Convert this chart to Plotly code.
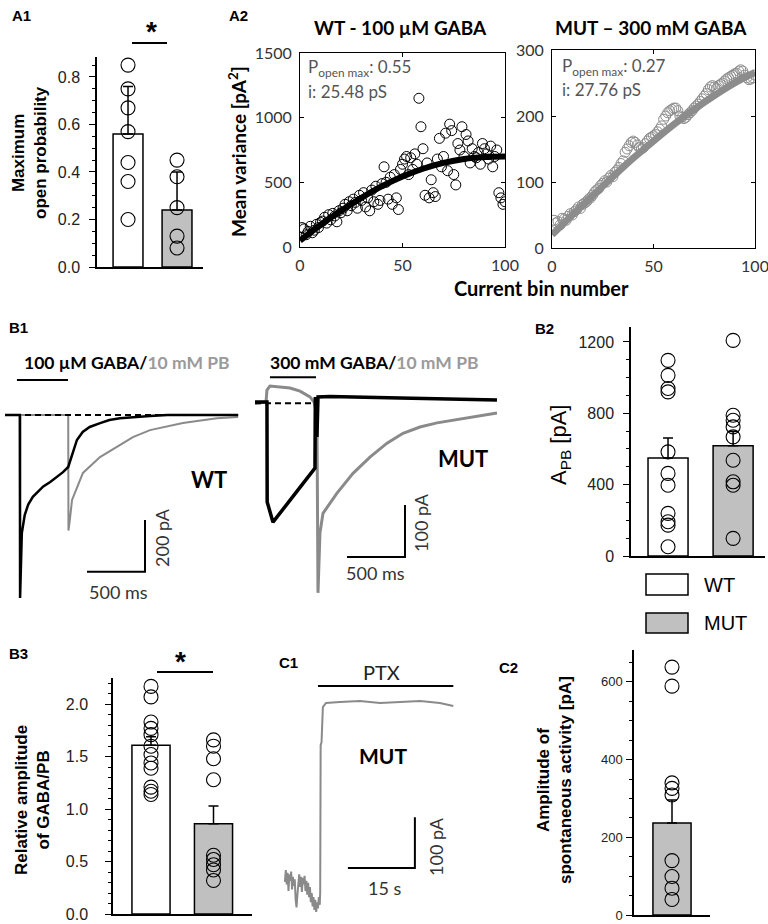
import plotly.graph_objects as go

W, H = 768, 924

# ---------------- DATA ----------------
groups = ["WT", "MUT"]
group_pos = [0, 1]

# A1: maximum open probability
a1_mean = [0.56, 0.24]
a1_err = [0.20, 0.16]
a1_wt = [0.85, 0.75, 0.67, 0.57, 0.44, 0.36, 0.20]
a1_mut = [0.45, 0.38, 0.25, 0.13, 0.08]

# A2: mean variance vs current bin number
a2_bins = list(range(1, 101))
a2_wt_var = [150, 140, 95, 120, 160, 110, 130, 175, 150, 190,
             200, 230, 185, 250, 210, 260, 240, 195, 280, 265,
             300, 330, 280, 350, 320, 370, 345, 300, 400, 360,
             420, 310, 380, 280, 440, 350, 470, 330, 360, 490,
             620, 500, 370, 540, 330, 560, 380, 290, 600, 640,
             680, 700, 560, 690, 600, 720, 640, 1150, 930, 760,
             400, 650, 380, 520, 420, 390, 680, 840, 620, 700,
             880, 590, 950, 900, 560, 480, 800, 750, 930, 700,
             870, 820, 650, 760, 700, 690, 730, 640, 800, 760,
             720, 680, 780, 620, 700, 750, 420, 380, 330, 350]
a2_mut_var = [42, 38, 40, 35, 45, 44, 42, 48, 52, 50,
              55, 58, 62, 60, 66, 68, 70, 74, 76, 80,
              85, 88, 90, 95, 98, 102, 100, 106, 110, 108,
              115, 118, 122, 128, 132, 145, 150, 155, 160, 162,
              160, 156, 152, 150, 152, 158, 162, 166, 168, 170,
              172, 176, 180, 185, 195, 200, 205, 208, 210, 212,
              212, 208, 200, 198, 196, 198, 202, 205, 208, 212,
              215, 218, 222, 226, 230, 234, 240, 244, 246, 244,
              242, 246, 248, 250, 253, 256, 258, 260, 262, 264,
              265, 268, 270, 268, 262, 258, 255, 256, 258, 262]
a2_fit_bins = [0, 10, 20, 30, 40, 50, 60, 70, 80, 90, 100]
a2_wt_fit = [50, 170, 280, 380, 470, 545, 605, 650, 680, 695, 700]
a2_mut_fit = [20, 50, 79, 108, 136, 162, 187, 210, 231, 250, 266]

# B1: current traces (ms, pA)
wt_gaba_t = [0, 128, 130, 135, 145, 170, 200, 240, 285, 330, 390, 450, 500, 545,
             580, 620, 670, 730, 820, 900, 990, 1100, 1250, 1400, 2010]
wt_gaba_i = [0, 0, -705, -560, -455, -385, -345, -315, -295, -275, -258, -238, -220, -200,
             -155, -96, -65, -46, -31, -19, -12, -8, -4, 0, 0]
wt_pb_t = [0, 128, 130, 133, 545, 547, 560, 578, 612, 672, 819, 965, 1103, 1250, 1534, 1827, 2010]
wt_pb_i = [0, 0, -480, 0, 0, -445, -400, -327, -289, -223, -162, -123, -85, -58, -31, -12, -8]
mut_gaba_t = [0, 103, 105, 155, 336, 517, 520, 534, 543, 647, 1250, 1681, 2086]
mut_gaba_i = [2, 2, -190, -229, -177, -125, 12, -65, 12, 13, 10, 8, 6]
mut_pb_t = [0, 95, 103, 129, 302, 388, 474, 509, 534, 543, 560, 586, 707, 845, 991,
            1138, 1276, 1422, 1569, 1707, 1853, 2086]
mut_pb_i = [0, 2, 25, 33, 29, 23, 12, 2, -20, -365, -250, -212, -173, -135, -104,
            -77, -58, -46, -38, -33, -27, -19]
wt_gaba_on = [103, 543]
mut_gaba_on = [129, 526]

# B2: A_PB
b2_mean = [550, 618]
b2_err = [112, 80]
b2_wt = [1097, 1013, 939, 920, 584, 463, 397, 239, 192, 173, 52]
b2_mut = [1209, 789, 761, 724, 668, 537, 416, 397, 99]

# B3: relative amplitude GABA/PB
b3_mean = [1.61, 0.86]
b3_err = [0.08, 0.17]
b3_wt = [2.17, 2.07, 1.83, 1.77, 1.71, 1.60, 1.52, 1.44, 1.39, 1.21, 1.17, 1.14]
b3_mut = [1.66, 1.60, 1.48, 1.28, 0.56, 0.52, 0.47, 0.42, 0.32]

# C1: PTX trace (s, pA)
c1_t = [1.1, 1.3, 1.5, 1.7, 1.9, 2.1, 2.3, 2.5, 2.7, 2.9, 3.1, 3.3, 3.5, 3.7, 3.9,
        4.1, 4.3, 4.5, 4.7, 4.9, 5.1, 5.3, 5.5, 5.7, 5.9, 6.1, 6.3, 6.5, 6.7, 6.9,
        7.1, 7.3, 7.5, 7.7, 7.9, 8.1, 8.3, 8.5, 8.7, 8.9,
        9.0, 9.1, 9.3, 9.6, 10.3, 13.4, 17.9, 22.4, 26.9, 31.4, 35.8, 38.8]
c1_i = [10, 33, 5, 28, -8, 25, 12, 30, -5, 20, 2, 15, -25, -40, -15,
        10, 25, 0, 20, -10, 18, 5, 22, -8, 12, -15, 8, -20, 0, -30,
        -12, -38, -20, -45, -25, -49, -30, -42, -20, -35,
        -10, 278, 284, 353, 361, 363, 365, 361, 363, 365, 361, 355]
c1_ptx_on = [8.5, 38.8]

# C2: spontaneous activity amplitude
c2_mean = [237]
c2_err = [59]
c2_mut = [638, 589, 340, 326, 309, 140, 99, 69, 40]

# scale bars
b1_scale_ms = 500
wt_scale_pa = 200
mut_scale_pa = 100
c1_scale_s = 15
c1_scale_pa = 100

# ---------------- STYLE ----------------
ARIAL = "Liberation Sans, Arial, sans-serif"
CAL = "Lato, Liberation Sans, sans-serif"
GRAY_TR = "#8a8a8a"
BAR_GRAY = "#c0c0c0"
TICKC = "#222222"


def dx(a, b):
    return [a / W, b / W]


def dy(top, bottom):
    return [1 - bottom / H, 1 - top / H]


def px(x):
    return x / W


def py(y):
    return 1 - y / H


fig = go.Figure()

# ----- bar panels -----
def bar_panel(ax, means, errs, colors, pts_list, width):
    xs = group_pos[:len(means)]
    fig.add_trace(go.Bar(x=xs, y=means, width=width,
                         marker=dict(color=colors, line=dict(color="black", width=1.5)),
                         error_y=dict(type="data", symmetric=False, array=errs,
                                      arrayminus=[0] * len(errs), color="black",
                                      thickness=1.5, width=5),
                         xaxis="x" + ax, yaxis="y" + ax, hoverinfo="skip"))
    for i, pts in enumerate(pts_list):
        fig.add_trace(go.Scatter(x=[xs[i]] * len(pts), y=pts, mode="markers",
                                 marker=dict(symbol="circle-open", size=14, color="black",
                                             line=dict(width=1.1)),
                                 xaxis="x" + ax, yaxis="y" + ax, cliponaxis=False))


bar_panel("", a1_mean, a1_err, ["white", BAR_GRAY], [a1_wt, a1_mut], 0.61)
bar_panel("6", b2_mean, b2_err, ["white", BAR_GRAY], [b2_wt, b2_mut], 0.615)
bar_panel("7", b3_mean, b3_err, ["white", BAR_GRAY], [b3_wt, b3_mut], 0.61)
bar_panel("9", c2_mean, c2_err, [BAR_GRAY], [c2_mut], 0.61)

# ----- A2 scatter -----
fig.add_trace(go.Scatter(x=a2_bins, y=a2_wt_var, mode="markers",
                         marker=dict(symbol="circle-open", size=10, color="black", line=dict(width=1)),
                         xaxis="x2", yaxis="y2"))
fig.add_trace(go.Scatter(x=a2_fit_bins, y=a2_wt_fit, mode="lines", line=dict(color="black", width=6, shape="spline"),
                         xaxis="x2", yaxis="y2"))
fig.add_trace(go.Scatter(x=a2_bins, y=a2_mut_var, mode="markers",
                         marker=dict(symbol="circle-open", size=10, color="#8c8c8c", line=dict(width=1)),
                         xaxis="x3", yaxis="y3"))
fig.add_trace(go.Scatter(x=a2_fit_bins, y=a2_mut_fit, mode="lines", line=dict(color="#8c8c8c", width=7, shape="spline"),
                         xaxis="x3", yaxis="y3"))

# ----- B1 traces -----
fig.add_trace(go.Scatter(x=wt_pb_t, y=wt_pb_i, mode="lines", line=dict(color=GRAY_TR, width=2), xaxis="x4", yaxis="y4"))
fig.add_trace(go.Scatter(x=wt_gaba_t, y=wt_gaba_i, mode="lines", line=dict(color="black", width=2.5), xaxis="x4", yaxis="y4"))
fig.add_trace(go.Scatter(x=[wt_gaba_t[0], wt_gaba_t[-1]], y=[0, 0], mode="lines",
                         line=dict(color="black", width=2, dash="6px,4px"), xaxis="x4", yaxis="y4"))
fig.add_trace(go.Scatter(x=mut_pb_t, y=mut_pb_i, mode="lines", line=dict(color=GRAY_TR, width=3), xaxis="x5", yaxis="y5"))
fig.add_trace(go.Scatter(x=mut_gaba_t, y=mut_gaba_i, mode="lines", line=dict(color="black", width=3.5), xaxis="x5", yaxis="y5"))
fig.add_trace(go.Scatter(x=[mut_gaba_t[0], mut_gaba_t[5]], y=[0, 0], mode="lines",
                         line=dict(color="black", width=2, dash="6px,4px"), xaxis="x5", yaxis="y5"))

# scale bars (anchored at chosen positions)
wt_sb_t0, wt_sb_i0 = 707, -604
fig.add_trace(go.Scatter(x=[wt_sb_t0, wt_sb_t0 + b1_scale_ms, wt_sb_t0 + b1_scale_ms],
                         y=[wt_sb_i0, wt_sb_i0, wt_sb_i0 + wt_scale_pa], mode="lines",
                         line=dict(color="black", width=2), xaxis="x4", yaxis="y4"))
mut_sb_t0, mut_sb_i0 = 793, -296
fig.add_trace(go.Scatter(x=[mut_sb_t0, mut_sb_t0 + b1_scale_ms, mut_sb_t0 + b1_scale_ms],
                         y=[mut_sb_i0, mut_sb_i0, mut_sb_i0 + mut_scale_pa], mode="lines",
                         line=dict(color="black", width=2), xaxis="x5", yaxis="y5"))

# ----- C1 trace -----
fig.add_trace(go.Scatter(x=c1_t, y=c1_i, mode="lines", line=dict(color=GRAY_TR, width=2), xaxis="x8", yaxis="y8"))
c1_sb_t0, c1_sb_i0 = 15.2, 37
fig.add_trace(go.Scatter(x=[c1_sb_t0, c1_sb_t0 + c1_scale_s, c1_sb_t0 + c1_scale_s],
                         y=[c1_sb_i0, c1_sb_i0, c1_sb_i0 + c1_scale_pa], mode="lines",
                         line=dict(color="black", width=2), xaxis="x8", yaxis="y8"))

# ---------------- AXES ----------------
bar_x = dict(showline=True, linecolor="black", linewidth=1.5, showticklabels=False, ticks="",
             showgrid=False, zeroline=False, fixedrange=True, automargin=False)


def bar_y(rng, dtick, minor, fmt, size=16, standoff=6):
    return dict(range=rng, dtick=dtick, tick0=0, tickformat=fmt, showline=True, linecolor="black",
                linewidth=1.5, ticks="outside", ticklen=6, tickwidth=1.2, tickcolor="black",
                showgrid=False, zeroline=False, ticklabelstandoff=standoff, automargin=False,
                ticklabeloverflow="allow",
                tickfont=dict(family=ARIAL, size=size, color=TICKC),
                minor=dict(dtick=minor, tick0=0, ticks="outside", ticklen=3, tickcolor="black", tickwidth=1, showgrid=False))


def box_axis(rng, dtick):
    return dict(range=rng, dtick=dtick, tick0=0, showline=True, linecolor="black", linewidth=1,
                mirror="ticks", ticks="inside", ticklen=4, tickcolor="black", showgrid=False,
                zeroline=False, ticklabelstandoff=4, automargin=False, ticklabeloverflow="allow",
                tickfont=dict(family=CAL, size=16, color="#333"))


hidden = dict(visible=False, showgrid=False, zeroline=False, automargin=False)

layout = dict(
    template="none",
    width=W, height=H, margin=dict(l=0, r=0, t=0, b=0, pad=0, autoexpand=False), autosize=False,
    paper_bgcolor="white", plot_bgcolor="rgba(0,0,0,0)", showlegend=False,
    font=dict(family=ARIAL, color="black"),
    # A1
    xaxis=dict(bar_x, domain=dx(97, 203), range=[-0.633, 1.53], anchor="y"),
    yaxis=dict(bar_y([0, 0.884], 0.2, 0.05, ".1f"), domain=dy(57, 267), anchor="x"),
    # A2
    xaxis2=dict(box_axis([0, 100], 50), domain=dx(300, 505), anchor="y2"),
    yaxis2=dict(box_axis([0, 1500], 500), domain=dy(53, 247), anchor="x2"),
    xaxis3=dict(box_axis([0, 100], 50), domain=dx(552, 755), anchor="y3"),
    yaxis3=dict(box_axis([0, 300], 100), domain=dy(50, 248), anchor="x3"),
    # B1 traces
    xaxis4=dict(hidden, domain=dx(5, 240), range=[0, 2026], anchor="y4"),
    yaxis4=dict(hidden, domain=dy(360, 610), range=[-751, 212], anchor="x4"),
    xaxis5=dict(hidden, domain=dx(255, 500), range=[0, 2112], anchor="y5"),
    yaxis5=dict(hidden, domain=dy(360, 610), range=[-398, 83], anchor="x5"),
    # B2
    xaxis6=dict(bar_x, domain=dx(631, 765), range=[-0.569, 1.49], anchor="y6"),
    yaxis6=dict(bar_y([0, 1284], 400, 100, "d"), domain=dy(327, 556), anchor="x6"),
    # B3
    xaxis7=dict(bar_x, domain=dx(113, 252), range=[-0.608, 1.616], anchor="y7"),
    yaxis7=dict(bar_y([0, 2.25], 0.5, 0.1, ".1f", standoff=14), domain=dy(678, 914), anchor="x7"),
    # C1
    xaxis8=dict(hidden, domain=dx(280, 460), range=[0, 40.3], anchor="y8"),
    yaxis8=dict(hidden, domain=dy(680, 915), range=[-55, 406], anchor="x8"),
    # C2
    xaxis9=dict(bar_x, domain=dx(634, 710), range=[-0.608, 0.608], anchor="y9"),
    yaxis9=dict(bar_y([0, 682], 200, 50, "d", size=13, standoff=1), domain=dy(650, 915), anchor="x9"),
)

# ---------------- ANNOTATIONS ----------------
anns = []


def ann(text, x, y, size=16, family=ARIAL, color="black", xa="center", ya="middle", angle=0, align="center"):
    anns.append(dict(text=text, x=px(x), y=py(y), xref="paper", yref="paper", showarrow=False,
                     xanchor=xa, yanchor=ya, textangle=angle, align=align,
                     font=dict(family=family, size=size, color=color)))


# panel labels
for lab, x, y in [("A1", 10, 15), ("A2", 227, 15), ("B1", 7, 327), ("B2", 533, 328),
                  ("B3", 7, 653), ("C1", 277, 662), ("C2", 497, 667)]:
    ann("<b>%s</b>" % lab, x, y, size=15, xa="left")

# A1
ann("<b>Maximum<br>open probability</b>", 29, 153, size=17, angle=-90)
ann("<b>*</b>", 151, 31, size=28)
# A2
ann("<b>WT - 100 µM GABA</b>", 400, 28, size=19, family=CAL)
ann("<b>MUT – 300 mM GABA</b>", 651, 28, size=19, family=CAL)
ann("<b>Mean variance [pA<sup>2</sup>]</b>", 238, 152, size=19, family=CAL, angle=-90)
ann("<b>Current bin number</b>", 541, 288, size=20, family=CAL)
ann("P<sub>open max</sub>: 0.55", 306, 68, size=17, family=CAL, color="#555", xa="left")
ann("i: 25.48 pS", 306, 91, size=17, family=CAL, color="#555", xa="left")
ann("P<sub>open max</sub>: 0.27", 560, 67, size=17, family=CAL, color="#555", xa="left")
ann("i: 27.76 pS", 560, 89, size=17, family=CAL, color="#555", xa="left")
# B1
ann("<b>100 µM GABA/<span style='color:#9a9a9a'>10 mM PB</span></b>", 22, 363, size=17.5, family=CAL, xa="left")
ann("<b>300 mM GABA/<span style='color:#9a9a9a'>10 mM PB</span></b>", 268, 363, size=17.5, family=CAL, xa="left")
ann("<b>WT</b>", 209, 480, size=22, family=CAL)
ann("<b>MUT</b>", 463, 458, size=22, family=CAL)
ann("200 pA", 162, 538, size=18, family=CAL, color="#333", angle=-90)
ann("500 ms", 118, 592, size=18, family=CAL, color="#333")
ann("100 pA", 421, 523, size=18, family=CAL, color="#333", angle=-90)
ann("500 ms", 375, 573, size=18, family=CAL, color="#333")
# B2
ann("A<sub>PB</sub> [pA]", 560, 445, size=22, angle=-90)
ann("WT", 702, 585, size=20, xa="left")
ann("MUT", 702, 623, size=20, xa="left")
# B3
ann("<b>Relative amplitude<br>of GABA/PB</b>", 32, 800, size=17, angle=-90)
ann("<b>*</b>", 180, 661, size=28)
# C1
ann("PTX", 381, 672, size=20, family=CAL, color="#222")
ann("<b>MUT</b>", 383, 755, size=21, family=CAL)
ann("100 pA", 436, 847, size=18, family=CAL, color="#333", angle=-90)
ann("15 s", 384, 888, size=18, family=CAL, color="#333")
# C2
ann("<b>Amplitude of<br>spontaneous activity [pA]</b>", 554, 780, size=17, angle=-90)

layout["annotations"] = anns

# ---------------- SHAPES ----------------
shapes = [
    # significance lines
    dict(type="line", xref="paper", yref="paper", x0=px(132), x1=px(167), y0=py(43), y1=py(43),
         line=dict(color="black", width=2)),
    dict(type="line", xref="paper", yref="paper", x0=px(157), x1=px(213), y0=py(672), y1=py(672),
         line=dict(color="black", width=2)),
    # application bars
    dict(type="line", xref="x4", yref="y4", x0=wt_gaba_on[0], x1=wt_gaba_on[1], y0=135, y1=135,
         line=dict(color="black", width=2)),
    dict(type="line", xref="x5", yref="y5", x0=mut_gaba_on[0], x1=mut_gaba_on[1], y0=50, y1=50,
         line=dict(color="black", width=2)),
    dict(type="line", xref="x8", yref="y8", x0=c1_ptx_on[0], x1=c1_ptx_on[1], y0=394, y1=394,
         line=dict(color="black", width=2)),
    # B2 legend boxes
    dict(type="rect", xref="paper", yref="paper", x0=px(646), x1=px(688), y0=py(595), y1=py(574),
         line=dict(color="black", width=1.5), fillcolor="white"),
    dict(type="rect", xref="paper", yref="paper", x0=px(646), x1=px(688), y0=py(633), y1=py(613),
         line=dict(color="black", width=1.5), fillcolor=BAR_GRAY),
]
layout["shapes"] = shapes

fig.update_layout(**layout)
fig.write_html("out.html", config={"responsive": False, "displayModeBar": False},
               post_script="document.body.style.margin='0';document.body.style.overflow='hidden';")
